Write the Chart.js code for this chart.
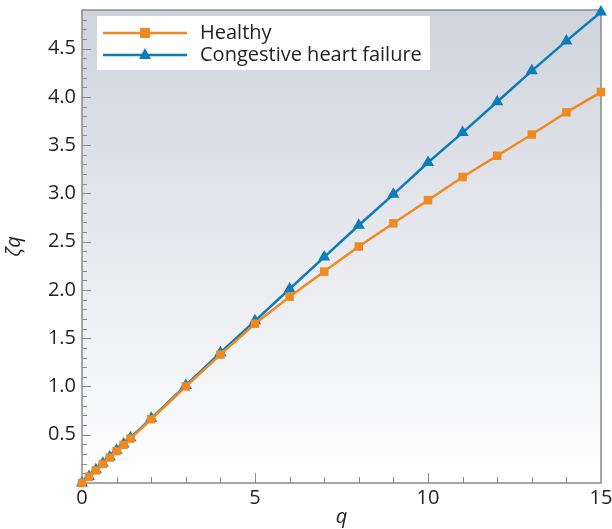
<!DOCTYPE html>
<html>
<head>
<meta charset="utf-8">
<script src="https://cdn.jsdelivr.net/npm/chart.js@4"></script>
<style>
html,body{margin:0;padding:0;background:#fff;}
#wrap{width:612px;height:529px;position:relative;}
</style>
</head>
<body>
<div id="wrap"><canvas id="c" width="612" height="529"></canvas></div>
<script>
const qValues = [0,0.2,0.4,0.6,0.8,1.0,1.2,1.4,2,3,4,5,6,7,8,9,10,11,12,13,14,15];
const healthy = [0,0.065,0.13,0.197,0.263,0.33,0.395,0.46,0.66,1.0,1.33,1.65,1.93,2.19,2.45,2.69,2.93,3.17,3.39,3.61,3.84,4.05];
const chf = [0,0.068,0.136,0.204,0.27,0.338,0.405,0.47,0.67,1.01,1.35,1.68,2.01,2.34,2.67,2.99,3.32,3.63,3.95,4.27,4.58,4.88];
const seriesLabels = ['Healthy','Congestive heart failure'];
const xTickLabels = [0,5,10,15];
const yTickLabels = [0.5,1.0,1.5,2.0,2.5,3.0,3.5,4.0,4.5];

const ORANGE = '#ef8a22';
const BLUE = '#0c7db6';
const FONT = '"Open Sans", "Noto Sans", sans-serif';

function pts(xs, ys){ return xs.map((x,i)=>({x:x,y:ys[i]})); }

const bgPlugin = {
  id:'bg',
  beforeDraw(chart){
    const {ctx, chartArea:a} = chart;
    const g = ctx.createLinearGradient(0,a.top,0,a.bottom);
    g.addColorStop(0,'#cfd3dc');
    g.addColorStop(1,'#ffffff');
    ctx.save();
    ctx.fillStyle = g;
    ctx.fillRect(a.left,a.top,a.right-a.left,a.bottom-a.top);
    ctx.restore();
  },
  beforeDatasetsDraw(chart){
    const {ctx, chartArea:a, scales} = chart;
    const xs = scales.x, ys = scales.y;
    ctx.save();
    ctx.strokeStyle = '#8a8a8a';
    ctx.lineWidth = 1;
    ctx.beginPath();
    for(let v=1; v<15; v++){
      const px = Math.round(xs.getPixelForValue(v))+0.5;
      const len = (v%5===0)?10:6;
      ctx.moveTo(px,a.bottom); ctx.lineTo(px,a.bottom-len);
    }
    for(let k=1; k<=48; k++){
      const v = k/10;
      const py = Math.round(ys.getPixelForValue(v))+0.5;
      const len = (k%5===0)?9:5;
      ctx.moveTo(a.left,py); ctx.lineTo(a.left+len,py);
    }
    ctx.stroke();
    ctx.lineWidth = 1.5;
    ctx.strokeRect(a.left,a.top,a.right-a.left,a.bottom-a.top);
    ctx.restore();
  },
  afterDraw(chart){
    const {ctx} = chart;
    ctx.save();
    ctx.fillStyle = '#ffffff';
    ctx.fillRect(97,16,333,54);
    const rows = [{y:33},{y:55}];
    chart.data.datasets.forEach((ds,i)=>{
      const y = rows[i].y;
      ctx.strokeStyle = ds.borderColor;
      ctx.lineWidth = 2.5;
      ctx.beginPath(); ctx.moveTo(103,y); ctx.lineTo(187,y); ctx.stroke();
      ctx.fillStyle = ds.backgroundColor;
      if(ds.pointStyle==='rect'){
        ctx.fillRect(140,y-5,10,10);
      } else {
        ctx.beginPath(); ctx.moveTo(145,y-7); ctx.lineTo(151,y+4); ctx.lineTo(139,y+4); ctx.closePath(); ctx.fill();
      }
      ctx.fillStyle = '#231f20';
      ctx.font = '20px ' + FONT;
      ctx.textBaseline = 'middle';
      ctx.fillText(ds.label, 200, y);
    });
    ctx.restore();
  }
};

new Chart(document.getElementById('c'), {
  type:'line',
  data:{
    datasets:[
      {label:seriesLabels[0], data:pts(qValues,healthy), borderColor:ORANGE, backgroundColor:ORANGE,
       borderWidth:2.5, pointStyle:'rect', pointRadius:6, pointBorderWidth:0, clip:false, tension:0},
      {label:seriesLabels[1], data:pts(qValues,chf), borderColor:BLUE, backgroundColor:BLUE,
       borderWidth:2.5, pointStyle:'triangle', pointRadius:7, pointBorderWidth:0, clip:false, tension:0}
    ]
  },
  options:{
    responsive:false, animation:false,
    layout:{padding:{left:0,top:10,right:11,bottom:0}},
    plugins:{legend:{display:false}, tooltip:{enabled:false}},
    scales:{
      x:{type:'linear', min:0, max:15,
        afterBuildTicks(s){ s.ticks = xTickLabels.map(v=>({value:v})); },
        afterFit(s){ s.height = 46; s.paddingLeft = 0; s.paddingRight = 0; },
        grid:{display:false, drawTicks:false}, border:{display:false},
        ticks:{font:{family:FONT,size:20}, color:'#231f20', padding:3, maxRotation:0},
        title:{display:true, text:'q', font:{family:FONT,size:20,style:'italic'}, color:'#231f20', padding:{top:-7,bottom:0}}
      },
      y:{type:'linear', min:0, max:4.9,
        afterBuildTicks(s){ s.ticks = yTickLabels.map(v=>({value:v})); },
        afterFit(s){ s.width = 82; s.paddingTop = 0; s.paddingBottom = 0; },
        grid:{display:false, drawTicks:false}, border:{display:false},
        ticks:{font:{family:FONT,size:20}, color:'#231f20', padding:6, callback:v=>v.toFixed(1)},
        title:{display:true, text:'ζq', font:{family:FONT,size:20,style:'italic'}, color:'#231f20', padding:{top:2,bottom:4}}
      }
    }
  },
  plugins:[bgPlugin]
});
</script>
</body>
</html>
